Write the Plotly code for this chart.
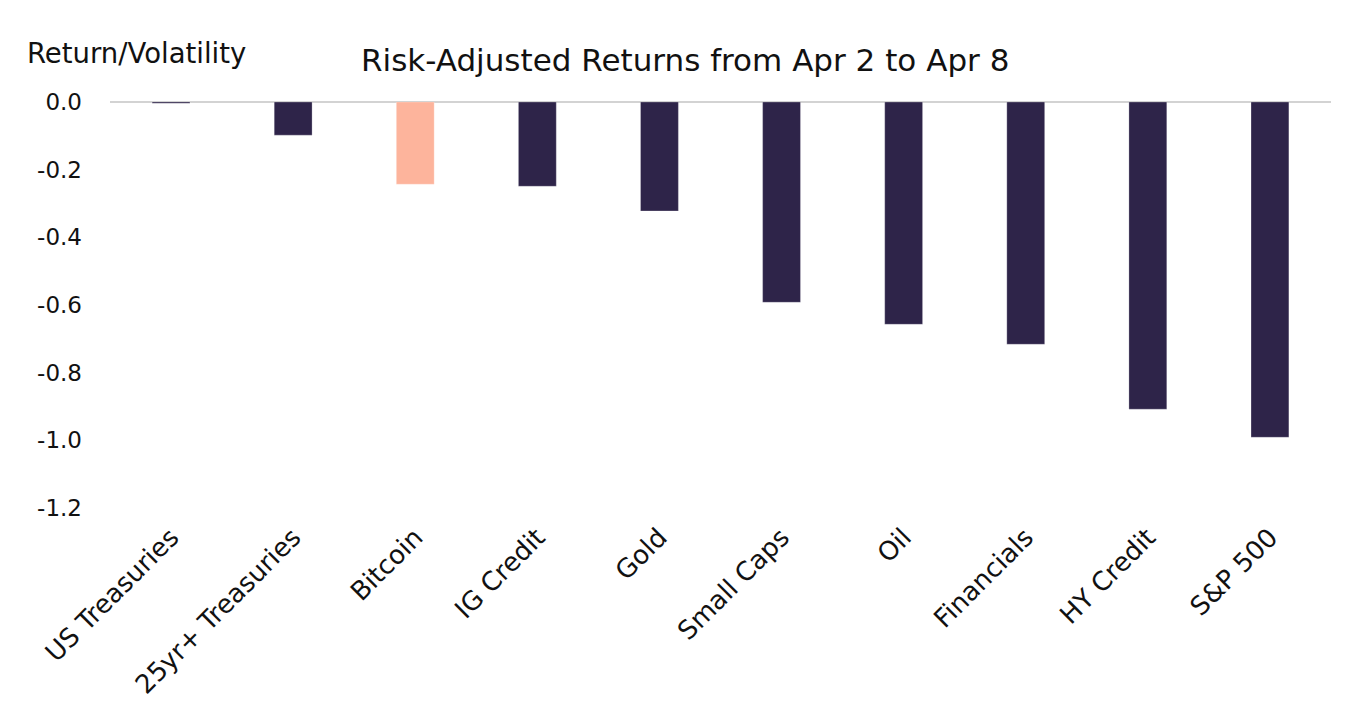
import plotly.graph_objects as go

categories = ["US Treasuries", "25yr+ Treasuries", "Bitcoin", "IG Credit", "Gold",
              "Small Caps", "Oil", "Financials", "HY Credit", "S&P 500"]
values = [-0.004, -0.098, -0.243, -0.249, -0.322, -0.592, -0.657, -0.716, -0.908, -0.991]
bar_colors = ["#2E2449", "#2E2449", "#FDB49C", "#2E2449", "#2E2449",
              "#2E2449", "#2E2449", "#2E2449", "#2E2449", "#2E2449"]
y_ticks = [0.0, -0.2, -0.4, -0.6, -0.8, -1.0, -1.2]
y_tick_text = ["0.0", "-0.2", "-0.4", "-0.6", "-0.8", "-1.0", "-1.2"]

fig = go.Figure(go.Bar(
    x=categories, y=values, marker_color=bar_colors,
    marker_line=dict(color="rgba(255,255,255,0.25)", width=1),
    width=0.31,
))

fam = "DejaVu Sans, sans-serif"

fig.update_layout(
    width=1346, height=724,
    margin=dict(l=110, r=15, t=102, b=216),
    paper_bgcolor="white", plot_bgcolor="white",
    showlegend=False,
    font=dict(family=fam, color="#111111"),
    xaxis=dict(tickangle=-45, tickfont=dict(family=fam, size=26, color="#111111"),
               showgrid=False, showline=False,
               zeroline=False, ticks="", ticklabelstandoff=8),
    yaxis=dict(range=[-1.2, 0.0], tickvals=y_ticks, ticktext=y_tick_text,
               tickfont=dict(family=fam, size=23, color="#111111"),
               showgrid=False, zeroline=True,
               zerolinecolor="#D3D3D3", zerolinewidth=2, showline=False,
               ticks="", ticklabelstandoff=27),
    annotations=[
        dict(text="Risk-Adjusted Returns from Apr 2 to Apr 8", x=685, y=60,
             showarrow=False,
             font=dict(family=fam, size=31, color="#111111")),
        dict(text="Return/Volatility", x=25, y=53, showarrow=False,
             font=dict(family=fam, size=27.5, color="#111111")),
    ],
)

# convert pixel positions of annotations to paper coords
pw = 1346 - 110 - 15
ph = 724 - 102 - 216
for ann in fig.layout.annotations:
    px, py = ann.x, ann.y
    ann.x = (px - 110) / pw
    ann.y = 1 - (py - 102) / ph
    ann.xref = "paper"; ann.yref = "paper"
    ann.yanchor = "middle"
    ann.xanchor = "left" if px < 100 else "center"

fig.write_html("out.html")
